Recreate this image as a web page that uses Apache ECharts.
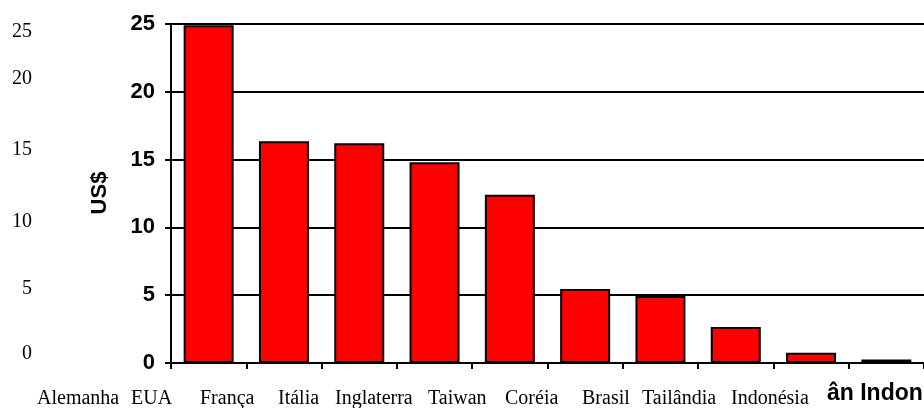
<!DOCTYPE html>
<html>
<head>
<meta charset="utf-8">
<script src="https://cdn.jsdelivr.net/npm/echarts@6/dist/echarts.min.js"></script>
<style>
  html, body { margin: 0; padding: 0; background: #fff; }
  #chart { width: 924px; height: 408px; }
</style>
</head>
<body>
<div id="chart"></div>
<script>
// dados
var paises = ['Alemanha', 'EUA', 'França', 'Itália', 'Inglaterra', 'Taiwan', 'Coréia', 'Brasil', 'Tailândia', 'Indonésia']
var valores = [24.9, 16.35, 16.2, 14.8, 12.4, 5.45, 4.95, 2.65, 0.75, 0.25]
var eixoY = [0, 5, 10, 15, 20, 25]
// textos soltos (sobra de outro gráfico)
var rotulosEsq = ['25', '20', '15', '10', '5', '0']
var rotulosBaixo = ['Alemanha', 'EUA', 'França', 'Itália', 'Inglaterra', 'Taiwan', 'Coréia', 'Brasil', 'Tailândia', 'Indonésia']
var rotuloCortado = 'ân Indon'

// posicoes dos textos soltos
var yEsq = [32, 79, 150, 222, 289, 354]
var xBaixo = [37, 131, 200, 278, 335, 428, 505, 582, 642, 731]

var chart = echarts.init(document.getElementById('chart'))

var graficos = []
rotulosEsq.forEach(function (t, i) {
  graficos.push({
    type: 'text', x: 32, y: yEsq[i],
    style: { text: t, fill: '#000', font: '20px "Liberation Serif", serif', align: 'right', verticalAlign: 'middle' }
  })
})
rotulosBaixo.forEach(function (t, i) {
  graficos.push({
    type: 'text', x: xBaixo[i], y: 399,
    style: { text: t, fill: '#000', font: '20px "Liberation Serif", serif', align: 'left', verticalAlign: 'middle' }
  })
})
graficos.push({
  type: 'text', x: 827, y: 394,
  style: { text: rotuloCortado, fill: '#000', font: 'bold 23px "Liberation Sans", Arial, sans-serif', align: 'left', verticalAlign: 'middle' }
})
graficos.push({
  type: 'text', x: 100, y: 193, rotation: Math.PI / 2,
  style: { text: 'US$', fill: '#000', font: 'bold 22px "Liberation Sans", Arial, sans-serif', align: 'center', verticalAlign: 'middle' }
})

var option = {
  animation: false,
  backgroundColor: '#fff',
  grid: { left: 171, top: 24, width: 763, height: 339, containLabel: false },
  graphic: graficos,
  xAxis: {
    type: 'category',
    data: paises,
    axisLine: { lineStyle: { color: '#000', width: 2 } },
    axisTick: { show: true, length: 6, lineStyle: { color: '#000', width: 2 } },
    axisLabel: { show: false },
    splitLine: { show: false }
  },
  yAxis: {
    type: 'value',
    min: eixoY[0],
    max: eixoY[eixoY.length - 1],
    interval: 5,
    axisLine: { show: true, lineStyle: { color: '#000', width: 2 } },
    axisTick: { show: true, length: 6, lineStyle: { color: '#000', width: 2 } },
    axisLabel: {
      color: '#000', fontSize: 22, fontWeight: 'bold',
      fontFamily: '"Liberation Sans", Arial, sans-serif', margin: 16
    },
    splitLine: { show: true, lineStyle: { color: '#000', width: 2 } }
  },
  series: [{
    type: 'bar',
    data: valores,
    barWidth: 50,
    itemStyle: { color: '#ff0000', borderColor: '#000', borderWidth: 2 }
  }]
}

chart.setOption(option)
</script>
</body>
</html>
